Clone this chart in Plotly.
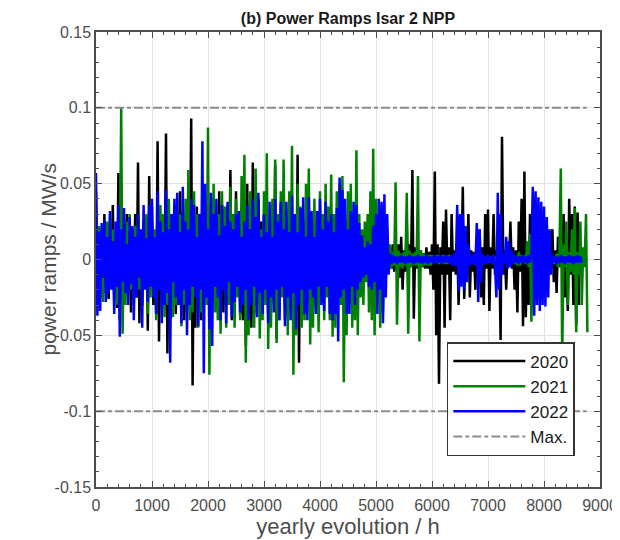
import plotly.graph_objects as go

# hourly sampling grid (every 25 h) of the yearly evolution
hours = list(range(0, 8800, 25))

# power ramps in MW/s, one value per 25 h step
ramps_2020 = [
    0.045, -0.020, 0.015, -0.025, 0.020, -0.010, 0.030, -0.022, 0.012, -0.026,
    0.020, -0.015, 0.036, -0.020, 0.010, -0.032, 0.057, -0.040, 0.015, -0.025,
    0.025, -0.012, 0.030, -0.020, 0.015, -0.035, 0.020, -0.015, 0.030, -0.025,
    0.064, -0.042, 0.015, -0.030, 0.025, -0.015, 0.028, -0.047, 0.055, -0.020,
    0.025, -0.030, 0.015, -0.036, 0.078, -0.054, 0.020, -0.025, 0.030, -0.015,
    0.083, -0.062, 0.020, -0.040, 0.030, -0.015, 0.035, -0.036, 0.020, -0.030,
    0.045, -0.020, 0.030, -0.040, 0.015, -0.030, 0.038, -0.020, 0.093, -0.083,
    0.025, -0.045, 0.035, -0.015, 0.030, -0.040, 0.020, -0.030, 0.030, -0.020,
    0.015, -0.035, 0.036, -0.020, 0.040, -0.030, 0.020, -0.034, 0.045, -0.015,
    0.030, -0.035, 0.020, -0.030, 0.036, -0.015, 0.059, -0.040, 0.025, -0.038,
    0.045, -0.020, 0.030, -0.036, 0.015, -0.040, 0.036, -0.057, 0.050, -0.025,
    0.030, -0.045, 0.064, -0.036, 0.020, -0.030, 0.040, -0.015, 0.025, -0.035,
    0.030, -0.020, 0.035, -0.036, 0.015, -0.030, 0.036, -0.020, 0.062, -0.052,
    0.025, -0.035, 0.036, -0.015, 0.030, -0.040, 0.020, -0.036, 0.035, -0.020,
    0.030, -0.036, 0.015, -0.034, 0.069, -0.068, 0.020, -0.010, 0.015, -0.008,
    0.012, -0.015, 0.010, -0.012, 0.014, -0.010, 0.012, -0.012, 0.010, -0.015,
    0.012, -0.010, 0.014, -0.012, 0.010, -0.015, 0.012, -0.010, 0.008, -0.012,
    0.010, -0.008, 0.012, -0.010, 0.008, -0.010, 0.012, -0.010, 0.008, -0.006,
    0.008, -0.006, 0.005, -0.006, 0.008, -0.005, 0.006, -0.005, 0.004, -0.006,
    0.005, -0.004, 0.005, -0.004, 0.006, -0.005, 0.004, -0.004, 0.005, -0.006,
    0.006, -0.005, 0.004, -0.006, 0.005, -0.004, 0.005, -0.004, 0.008, -0.006,
    0.008, -0.006, 0.010, -0.008, 0.006, -0.008, 0.010, -0.012, 0.015, -0.020,
    0.006, -0.008, 0.025, -0.018, 0.010, -0.005, 0.059, -0.039, 0.008, -0.006,
    0.005, -0.004, 0.006, -0.005, 0.004, -0.006, 0.008, -0.006, 0.005, -0.010,
    0.010, -0.020, 0.058, -0.050, 0.010, -0.082, 0.008, -0.010, 0.025, -0.045,
    0.033, -0.010, 0.008, -0.040, 0.030, -0.008, 0.006, -0.010, 0.012, -0.030,
    0.010, -0.006, 0.048, -0.026, 0.008, -0.005, 0.030, -0.025, 0.006, -0.008,
    0.005, -0.020, 0.012, -0.006, 0.020, -0.025, 0.008, -0.030, 0.030, -0.006,
    0.033, -0.034, 0.008, -0.006, 0.030, -0.010, 0.006, -0.008, 0.010, -0.053,
    0.081, -0.010, 0.006, -0.020, 0.008, -0.005, 0.025, -0.006, 0.008, -0.020,
    0.006, -0.035, 0.025, -0.008, 0.040, -0.044, 0.058, -0.038, 0.010, -0.030,
    0.030, -0.020, 0.006, -0.005, 0.004, -0.006, 0.005, -0.004, 0.005, -0.004,
    0.004, -0.006, 0.005, -0.004, 0.006, -0.005, 0.020, -0.015, 0.006, -0.022,
    0.015, -0.005, 0.006, -0.004, 0.030, -0.025, 0.008, -0.034, 0.040, -0.010,
    0.030, -0.030, 0.035, -0.043, 0.031, -0.030,
]

ramps_2021 = [
    0.020, -0.015, 0.022, -0.020, 0.012, -0.028, 0.022, -0.010, 0.025, -0.018,
    0.030, -0.012, 0.020, -0.025, 0.015, -0.030, 0.018, -0.015, 0.100, -0.049,
    0.015, -0.030, 0.025, -0.012, 0.030, -0.020, 0.010, -0.030, 0.022, -0.015,
    0.030, -0.020, 0.012, -0.030, 0.025, -0.015, 0.030, -0.036, 0.015, -0.025,
    0.035, -0.018, 0.020, -0.040, 0.025, -0.015, 0.036, -0.020, 0.030, -0.038,
    0.020, -0.030, 0.040, -0.018, 0.025, -0.038, 0.015, -0.030, 0.040, -0.022,
    0.030, -0.044, 0.020, -0.030, 0.040, -0.015, 0.059, -0.040, 0.020, -0.035,
    0.045, -0.020, 0.030, -0.045, 0.020, -0.035, 0.040, -0.015, 0.035, -0.030,
    0.087, -0.076, 0.030, -0.020, 0.050, -0.035, 0.020, -0.040, 0.030, -0.049,
    0.045, -0.020, 0.035, -0.045, 0.025, -0.030, 0.048, -0.020, 0.030, -0.045,
    0.040, -0.025, 0.020, -0.040, 0.055, -0.030, 0.069, -0.068, 0.030, -0.050,
    0.045, -0.020, 0.030, -0.045, 0.060, -0.025, 0.035, -0.052, 0.020, -0.040,
    0.045, -0.030, 0.070, -0.059, 0.025, -0.045, 0.040, -0.020, 0.066, -0.055,
    0.030, -0.040, 0.045, -0.025, 0.066, -0.030, 0.020, -0.050, 0.045, -0.025,
    0.075, -0.076, 0.030, -0.050, 0.050, -0.020, 0.035, -0.045, 0.025, -0.040,
    0.050, -0.025, 0.060, -0.056, 0.020, -0.045, 0.040, -0.030, 0.025, -0.048,
    0.045, -0.020, 0.030, -0.040, 0.050, -0.025, 0.035, -0.040, 0.056, -0.051,
    0.030, -0.045, 0.045, -0.020, 0.050, -0.030, 0.055, -0.081, 0.025, -0.050,
    0.045, -0.030, 0.050, -0.045, 0.020, -0.040, 0.072, -0.050, 0.030, -0.025,
    0.020, -0.030, 0.025, -0.015, 0.030, -0.035, 0.045, -0.040, 0.073, -0.050,
    0.040, -0.020, 0.030, -0.045, 0.015, -0.035, 0.030, -0.010, 0.020, -0.008,
    0.010, -0.006, 0.005, -0.004, 0.051, -0.043, 0.006, -0.005, 0.004, -0.006,
    0.005, -0.004, 0.044, -0.049, 0.006, -0.005, 0.004, -0.004, 0.005, -0.004,
    0.055, -0.054, 0.006, -0.005, 0.004, -0.004, 0.003, -0.004, 0.003, -0.004,
    0.003, -0.003, 0.002, -0.002, 0.003, -0.003, 0.002, -0.002, 0.003, -0.003,
    0.002, -0.003, 0.003, -0.002, 0.002, -0.003, 0.003, -0.002, 0.002, -0.003,
    0.003, -0.002, 0.002, -0.003, 0.003, -0.002, 0.003, -0.003, 0.002, -0.002,
    0.002, -0.003, 0.003, -0.002, 0.002, -0.002, 0.003, -0.003, 0.002, -0.003,
    0.003, -0.002, 0.002, -0.003, 0.003, -0.003, 0.002, -0.002, 0.003, -0.002,
    0.002, -0.003, 0.003, -0.002, 0.002, -0.003, 0.003, -0.002, 0.002, -0.003,
    0.002, -0.004, 0.005, -0.004, 0.003, -0.002, 0.003, -0.003,
    0.012, -0.005, 0.017, -0.041, 0.010, -0.005, 0.004,
    0.003, -0.002, 0.003, -0.003, 0.002, -0.003, 0.002, -0.003, 0.003, -0.002,
    0.003, -0.003, 0.002, -0.003, 0.004, -0.005, 0.004,
    0.060, -0.065, 0.010, -0.005, 0.025, -0.030, 0.005, -0.008, 0.020, -0.010,
    0.034, -0.048, 0.005, -0.010, 0.025, -0.030, 0.008, -0.005, 0.030, -0.048,
]

ramps_2022 = [
    0.057, -0.037, 0.018, -0.034, 0.024, -0.012, 0.026, -0.028, 0.015, -0.022,
    0.032, -0.020, 0.012, -0.036, 0.025, -0.018, 0.036, -0.051, 0.020, -0.015,
    0.034, -0.022, 0.010, -0.030, 0.028, -0.016, 0.022, -0.040, 0.015, -0.025,
    0.030, -0.012, 0.020, -0.045, 0.036, -0.020, 0.014, -0.028, 0.036, -0.018,
    0.040, -0.025, 0.015, -0.036, 0.045, -0.020, 0.025, -0.042, 0.018, -0.030,
    0.046, -0.022, 0.020, -0.068, 0.030, -0.015, 0.040, -0.025, 0.044, -0.030,
    0.018, -0.042, 0.048, -0.020, 0.025, -0.050, 0.020, -0.030, 0.040, -0.018,
    0.036, -0.025, 0.015, -0.044, 0.030, -0.020, 0.078, -0.075, 0.050, -0.025,
    0.020, -0.046, 0.044, -0.057, 0.030, -0.018, 0.040, -0.025, 0.016, -0.040,
    0.036, -0.020, 0.022, -0.042, 0.038, -0.015, 0.025, -0.038, 0.020, -0.028,
    0.030, -0.018, 0.032, -0.035, 0.015, -0.030, 0.025, -0.020, 0.036, -0.040,
    0.020, -0.030, 0.040, -0.018, 0.028, -0.038, 0.044, -0.022, 0.015, -0.036,
    0.030, -0.020, 0.018, -0.042, 0.038, -0.025, 0.015, -0.035, 0.040, -0.020,
    0.025, -0.040, 0.038, -0.018, 0.020, -0.044, 0.038, -0.025, 0.018, -0.040,
    0.042, -0.022, 0.030, -0.046, 0.018, -0.030, 0.034, -0.020, 0.041, -0.036,
    0.015, -0.040, 0.041, -0.020, 0.032, -0.025, 0.015, -0.036, 0.032, -0.018,
    0.040, -0.030, 0.020, -0.034, 0.038, -0.018, 0.025, -0.036, 0.030, -0.040,
    0.018, -0.036, 0.034, -0.054, 0.054, -0.025, 0.046, -0.020, 0.040, -0.036,
    0.020, -0.036, 0.032, -0.018, 0.038, -0.030, 0.036, -0.020, 0.024, -0.015,
    0.016, -0.012, 0.008, -0.010, 0.012, -0.018, 0.010, -0.020, 0.022, -0.015,
    0.030, -0.036, 0.040, -0.020, 0.038, -0.042, 0.043, -0.025, 0.030, -0.010,
    0.004, -0.003, 0.003, -0.002, 0.002, -0.003, 0.002, -0.002, 0.003, -0.002,
    0.002, -0.003, 0.002, -0.002, 0.003, -0.002, 0.002, -0.003, 0.002, -0.002,
    0.003, -0.002, 0.002, -0.003, 0.002, -0.002, 0.003, -0.003, 0.002, -0.002,
    0.002, -0.003, 0.003, -0.002, 0.002, -0.002, 0.003, -0.003, 0.002, -0.002,
    0.003, -0.002, 0.002, -0.003, 0.003, -0.004, 0.004, -0.004,
    0.036, -0.021, 0.030, -0.018, 0.030, -0.020, 0.022, -0.015, 0.010,
    -0.004, 0.003, -0.003, 0.004, -0.004,
    0.024, -0.028, 0.020, -0.015,
    0.004, -0.003, 0.002, -0.003, 0.003, -0.002, 0.002, -0.003, 0.003, -0.004,
    -0.025, 0.044, -0.020, 0.030, -0.010,
    0.004, -0.003, 0.015, -0.006, 0.012, -0.005, 0.006, -0.003, 0.003,
    -0.002, 0.002, -0.003, 0.002, -0.002, 0.003, -0.002, 0.002, -0.003, 0.003,
    -0.002, 0.004,
    0.048, -0.037, 0.045, -0.030, 0.041, -0.034, 0.038, -0.030, 0.035, -0.031,
    0.028, -0.025, 0.020, -0.010,
    0.003, -0.002, 0.002, -0.003, 0.002, -0.002, 0.003, -0.002, 0.002, -0.003,
    0.002, -0.002, 0.003, -0.002, 0.002, -0.003, 0.002, -0.002, 0.003, -0.002,
    0.002, -0.002,
]

max_ramp = 0.1
max_hours = [0, 8760]

series_names = ["2020", "2021", "2022"]
series_colors = ["#000000", "#008000", "#0000ff"]
series_values = [ramps_2020, ramps_2021, ramps_2022]

x_ticks = [0, 1000, 2000, 3000, 4000, 5000, 6000, 7000, 8000, 9000]
y_ticks = [-0.15, -0.1, -0.05, 0, 0.05, 0.1, 0.15]
y_tick_labels = ["-0.15", "-0.1", "-0.05", "0", "0.05", "0.1", "0.15"]

fig = go.Figure()
for name, vals, color in zip(series_names, series_values, series_colors):
    fig.add_trace(go.Scatter(
        x=hours[:len(vals)], y=vals, mode="lines", name=name,
        line=dict(color=color, width=2.5), hoverinfo="skip",
    ))

fig.add_trace(go.Scatter(
    x=[max_hours[0], max_hours[1], None, max_hours[0], max_hours[1]],
    y=[max_ramp, max_ramp, None, -max_ramp, -max_ramp],
    mode="lines", name="Max.",
    line=dict(color="#8c8c8c", width=2, dash="9px,3px,4px,3px"),
    hoverinfo="skip",
))

axis_color = "#4d4d4d"
font_family = "Liberation Sans, Arial, sans-serif"

fig.update_layout(
    width=620, height=540,
    # the page body adds an 8 px offset, margins compensate for it
    margin=dict(l=88, r=28, t=24, b=61),
    paper_bgcolor="white", plot_bgcolor="white",
    font=dict(family=font_family, color=axis_color),
    title=dict(
        text="<b>(b) Power Ramps Isar 2 NPP</b>",
        x=0.5, xref="paper", xanchor="center",
        y=1 - 10 / 540, yref="container", yanchor="middle",
        font=dict(size=16, color="#1a1a1a", family=font_family),
    ),
    showlegend=True,
    legend=dict(
        x=0.95, y=0.068, xanchor="right", yanchor="bottom",
        bgcolor="white", bordercolor="#333333", borderwidth=1.5,
        font=dict(size=17, color="#1a1a1a", family=font_family),
        itemwidth=72, tracegroupgap=0,
    ),
    xaxis=dict(
        range=[0, 9000], tickvals=x_ticks, ticks="inside", ticklen=6,
        tickcolor=axis_color, tickwidth=1, automargin=False,
        ticklabelstandoff=3,
        showline=True, linecolor=axis_color, linewidth=1.5, mirror="ticks",
        showgrid=True, gridcolor="#e2e2e2", gridwidth=1.2, zeroline=False,
        minor=dict(dtick=200, ticks="inside", ticklen=3, tickcolor=axis_color,
                   showgrid=False),
        tickfont=dict(size=16, color=axis_color),
        title=dict(text="yearly evolution / h", font=dict(size=22, color=axis_color),
                   standoff=1),
    ),
    yaxis=dict(
        range=[-0.15, 0.15], tickvals=y_ticks, ticktext=y_tick_labels,
        ticks="inside", ticklen=6, tickcolor=axis_color, tickwidth=1,
        automargin=False,
        showline=True, linecolor=axis_color, linewidth=1.5, mirror="ticks",
        showgrid=True, gridcolor="#e2e2e2", gridwidth=1.2, zeroline=False,
        minor=dict(dtick=0.01, ticks="inside", ticklen=3, tickcolor=axis_color,
                   showgrid=False),
        tickfont=dict(size=16, color=axis_color),
    ),
    annotations=[dict(
        text="power ramps / MW/s", textangle=-90,
        x=-0.0952, y=0.5, xref="paper", yref="paper",
        xanchor="center", yanchor="middle", showarrow=False,
        font=dict(size=21, color=axis_color, family=font_family),
    )],
)

fig.write_html("out.html")
